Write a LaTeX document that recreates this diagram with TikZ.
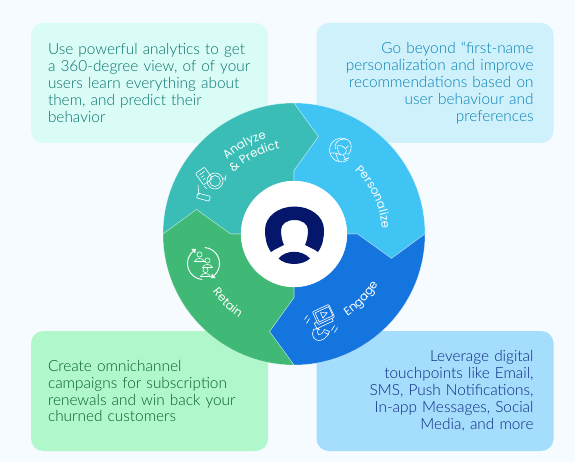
\documentclass[tikz,border=0pt]{standalone}
\usepackage{fontspec}
\setmainfont{Lato Light}
\newfontfamily\labelfont{Poppins}
\usetikzlibrary{arrows.meta, positioning, decorations.text}

\definecolor{pagebg}{HTML}{F5FBFE}
\definecolor{analyzeseg}{HTML}{39BDB6}
\definecolor{personalseg}{HTML}{3FC4F4}
\definecolor{engageseg}{HTML}{1575DF}
\definecolor{retainseg}{HTML}{3FB975}
\definecolor{analyzebox}{HTML}{D9FDF6}
\definecolor{personalbox}{HTML}{CFF1FB}
\definecolor{engagebox}{HTML}{A5DDFC}
\definecolor{retainbox}{HTML}{B0F7CC}
\definecolor{analyzetext}{HTML}{066F69}
\definecolor{personaltext}{HTML}{0680B4}
\definecolor{engagetext}{HTML}{0B2680}
\definecolor{retaintext}{HTML}{055C2A}
\definecolor{hubnavy}{HTML}{05176B}

\tikzset{
  infobox/.style={rounded corners=7pt, minimum width=4.74cm, minimum height=2.4cm,
    inner xsep=0.34cm, inner ysep=0pt, text width=4.06cm,
    font=\fontsize{8.75}{9.64}\selectfont},
  infoboxright/.style={infobox, inner xsep=0.4cm, text width=3.94cm, align=right},
  segment/.style={draw=white, draw opacity=0.45, line width=0.3pt},
  iconline/.style={draw=white, line width=0.35pt, x=0.02cm, y=0.02cm},
  wheellabel/.style={white, decorate, decoration={text along path, text align=center, text={#1}}}
}

\begin{document}
\begin{tikzpicture}[>=Stealth]
  % Page background
  \fill[pagebg] (0,0) rectangle (11.5,9.24);

  % Corner text panels
  \node[infobox, fill=analyzebox, text=analyzetext, align=left] (analyzenote) at (2.99,7.58)
    {Use powerful analytics to get\\a 360-degree view, of of your\\users learn everything about\\them, and predict their\\behavior};
  \node[infoboxright, fill=personalbox, text=personaltext] (personalnote) at (8.70,7.58)
    {Go beyond “first-name\\personalization and improve\\recommendations based on\\user behaviour and\\preferences};
  \node[infobox, fill=retainbox, text=retaintext, align=left] (retainnote) at (2.99,1.42)
    {Create omnichannel\\campaigns for subscription\\renewals and win back your\\churned customers};
  \node[infoboxright, fill=engagebox, text=engagetext] (engagenote) at (8.70,1.42)
    {Leverage digital\\touchpoints like Email,\\SMS, Push Notifications,\\In-app Messages, Social\\Media, and more};

  \begin{scope}[shift={(5.88,4.56)}]
    % Wheel segments
    \fill[analyzeseg, segment] (-2.62,0) arc (180:90:2.62) -- (0.49,1.95) -- (0,1.27) -- (0,1.06)
      arc (90:180:1.06) -- (-1.27,0) -- (-1.95,0.49) -- cycle;
    \fill[personalseg, segment] (0,2.62) arc (90:0:2.62) -- (1.95,-0.49) -- (1.27,0) -- (1.06,0)
      arc (0:90:1.06) -- (0,1.27) -- (0.49,1.95) -- cycle;
    \fill[engageseg, segment] (2.62,0) arc (0:-90:2.62) -- (-0.49,-1.95) -- (0,-1.27) -- (0,-1.06)
      arc (-90:0:1.06) -- (1.27,0) -- (1.95,-0.49) -- cycle;
    \fill[retainseg, segment] (0,-2.62) arc (-90:-180:2.62) -- (-1.95,0.49) -- (-1.27,0) -- (-1.06,0)
      arc (180:270:1.06) -- (0,-1.27) -- (-0.49,-1.95) -- cycle;

    % Centre disc with the user figure
    \node[circle, fill=white, minimum size=2.12cm, inner sep=0pt] (hub) at (0,0) {};
    \fill[hubnavy, x=0.02cm, y=0.02cm] (-23,-18) .. controls (-28,-11) and (-29,-3) .. (-29,4)
      .. controls (-29,18) and (-15,27.5) .. (0.5,27.5) .. controls (16,27.5) and (30,18) .. (30,4)
      .. controls (30,-3) and (29,-11) .. (24,-18) .. controls (20,-15) and (15,-13) .. (11,-11)
      .. controls (13,-7) and (14,-1) .. (14,4) .. controls (14,10) and (8,14) .. (0.5,14)
      .. controls (-7,14) and (-13,10) .. (-13,4) .. controls (-13,-1) and (-12,-7) .. (-10,-11)
      .. controls (-14,-13) and (-19,-15) .. (-23,-18) -- cycle;
    \fill[hubnavy, x=0.02cm, y=0.02cm] (-15.5,-24.5) .. controls (-8,-15.5) and (8,-15.5) .. (16,-24.5)
      .. controls (8,-31.8) and (-8,-31.8) .. (-15.5,-24.5) -- cycle;

    % Curved wheel labels
    \path[wheellabel={|\labelfont\fontsize{6.7}{8}\selectfont\color{white}|Analyze}]
      (150:2.0) arc (150:88:2.0);
    \path[wheellabel={|\labelfont\fontsize{6.7}{8}\selectfont\color{white}|{\&} Predict}]
      (152:1.72) arc (152:82:1.72);
    \path[wheellabel={|\labelfont\fontsize{6.7}{8}\selectfont\color{white}|Personalize}]
      (58:1.76) arc (58:-8:1.76);
    \path[wheellabel={|\labelfont\fontsize{6.7}{8}\selectfont\color{white}|Engage}]
      (-68:1.96) arc (-68:-20:1.96);
    \path[wheellabel={|\labelfont\fontsize{6.7}{8}\selectfont\color{white}|Retain}]
      (205:2.0) arc (205:247:2.0);

    % Analyze icon
    \begin{scope}[shift={(-1.80,1.16)}, iconline]
      \draw[rotate=35, rounded corners=0.5pt] (-5.5,-7) rectangle (5.5,7);
      \draw[rotate=35] (-3,3.5) -- (3,3.5) (-3,0.5) -- (0,0.5) (-3,-2.5) -- (0,-2.5);
      \draw (11,-5) circle (8);
      \draw (11,-5) circle (5.5);
      \draw (19,-3) -- (21,-2) (21,-5) -- (22,1);
      \draw (-6,-9) -- (-5,-19);
      \draw (0,-10) -- (3,-13);
      \draw[rotate around={-15:(-1,-21)}, rounded corners=0.5pt] (-7,-23.5) rectangle (6,-18.5);
    \end{scope}

    % Personalize icon
    \begin{scope}[shift={(0.95,1.68)}, iconline]
      \draw (-60:12) arc (-60:-290:12);
      \draw (2,-10) arc (-80:-50:12);
      \draw (-6,1) .. controls (-8,8) and (-2,11) .. (3,11) .. controls (9,11) and (11,5) .. (9,-1)
        .. controls (8,-4) and (6,-5) .. (5,-4);
      \draw (-5,4) .. controls (-1,5) and (2,4) .. (4,1) .. controls (5,3) and (6,4) .. (7,4);
      \draw (-4,3) .. controls (-4,-3) and (-1,-5) .. (1,-5) .. controls (3,-5) and (5,-3) .. (5,0);
      \draw (-11,-3) .. controls (-6,-3) and (-3,-3) .. (-1,-5) (-6,-3) -- (-3,-11);
      \draw (2,-5) .. controls (2,-8) and (4,-9) .. (7,-9);
    \end{scope}

    % Engage icon
    \begin{scope}[shift={(0.59,-1.61)}, iconline]
      \draw[rotate=25, rounded corners=0.5pt] (-9,-7) rectangle (9,7);
      \draw[rotate=25] (-7,-5) rectangle (8,5);
      \draw[rotate=25] (-2,-3) -- (4,0) -- (-2,3) -- cycle;
      \draw[rotate=25] (-9,-4) -- (-12,-4) -- (-12,-10) -- (6,-10) -- (6,-7);
      \draw (-10,-15) .. controls (-13,-21) and (-9,-26) .. (-5,-26)
        .. controls (-1,-26) and (3,-24) .. (6,-17) -- (1,-15)
        .. controls (-1,-19) and (-3,-21) .. (-5,-20) .. controls (-7,-19) and (-6,-16) .. (-5,-14) -- cycle;
      \draw (-8,-13.5) -- (-3.5,-15.5) (1,-18) -- (5.5,-20);
      \draw (-16,-1) -- (-19,-5) (-14,-4) -- (-17,-9);
      \draw (11,-11) -- (8,-16) (14,-13) -- (11,-18);
    \end{scope}

    % Retain icon
    \begin{scope}[shift={(-1.81,-0.59)}, iconline]
      \draw[line width=0.55pt] (85:16) arc (85:-50:16);
      \draw[line width=0.55pt] (265:16) arc (265:130:16);
      \fill[white] (7.6,-14.6) -- (12.2,-14.6) -- (8.4,-10) -- cycle;
      \fill[white] (-7.6,14.6) -- (-12.2,14.6) -- (-8.4,10) -- cycle;
      \draw (-4,9) circle (2.6) (-9,2) .. controls (-8,6) and (0,6) .. (1,2) -- cycle;
      \draw (4,3) circle (2.6) (-1,-4) .. controls (0,0) and (8,0) .. (9,-4) -- cycle;
      \draw (2,-6.5) circle (2.6) (-3,-13) .. controls (-2,-9) and (6,-9) .. (7,-13) -- cycle;
    \end{scope}
  \end{scope}
\end{tikzpicture}
\end{document}
